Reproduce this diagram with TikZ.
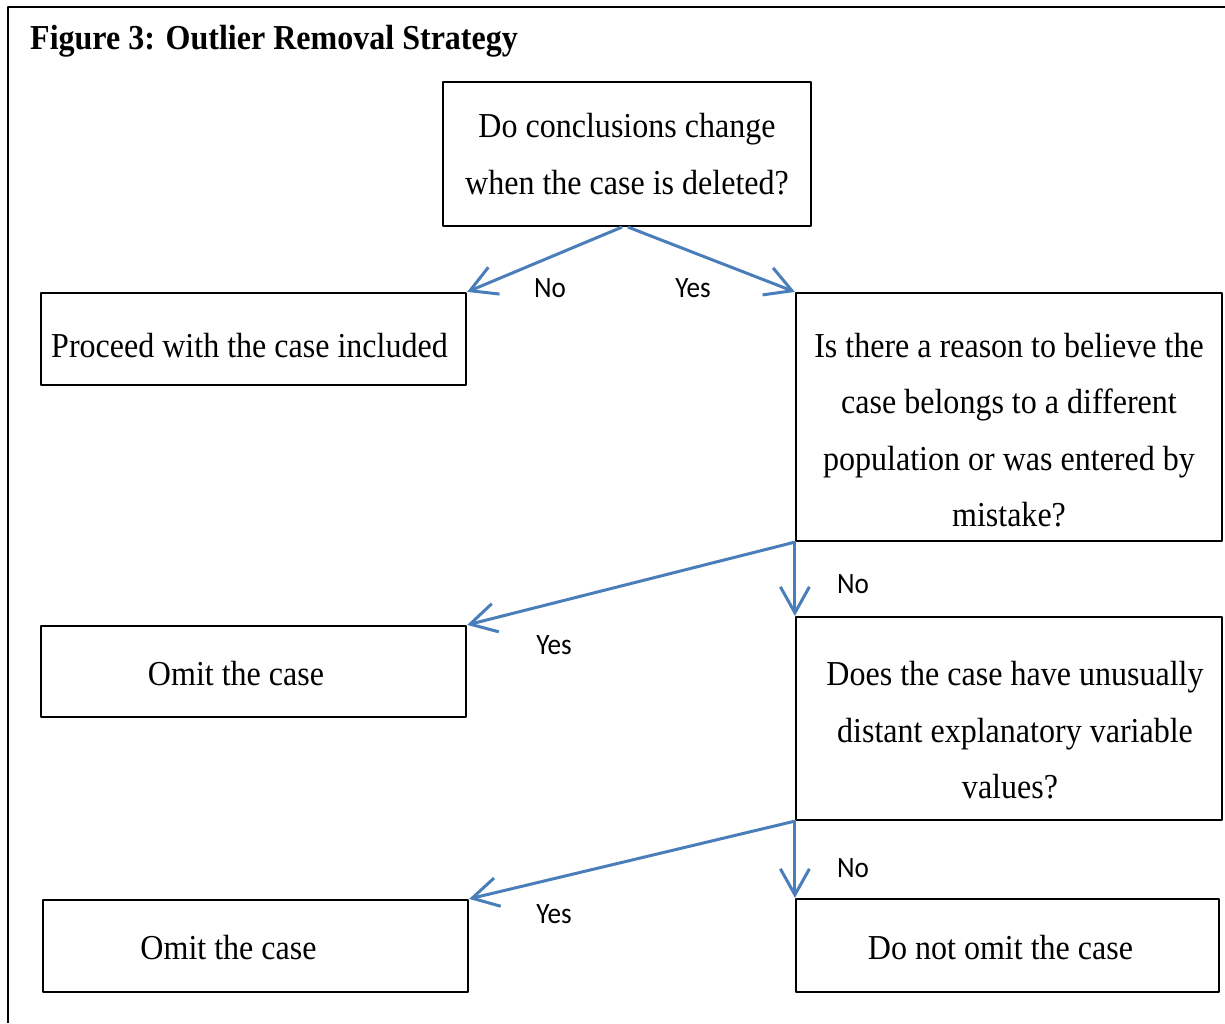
\documentclass[tikz,border=0pt]{standalone}
\usepackage{fontspec}
\setmainfont{Liberation Serif}[FakeStretch=0.915]
\newfontfamily\lblfont{Carlito}[FakeStretch=0.92]
\usetikzlibrary{arrows.meta}
\definecolor{arrblue}{RGB}{74,126,187}
\newcommand\boxfont{\fontsize{35}{56.5}\selectfont}
\begin{document}
\begin{tikzpicture}[x=1pt,y=-1pt,line join=round,
	box/.style={draw,line width=2.2pt,align=center,inner sep=0pt,font=\boxfont},
	arr/.style={draw=arrblue,line width=3pt,-{Straight Barb[length=26pt,width=29pt,line width=3pt]}},
	lbl/.style={font=\lblfont\fontsize{29.5}{32}\selectfont}]
	\useasboundingbox (0,0) rectangle (1225,1023);
	\draw[line width=2pt] (8,1023)--(8,7)--(1225,7);
	\node[anchor=base west,font=\boxfont\bfseries,inner sep=0pt] (title) at (30,49) {Figure 3: Outlier Removal Strategy};
	% boxes
	\node[box,minimum width=368,minimum height=144] (q1) at (627,154) {Do conclusions change\\when the case is deleted?};
	\node[box,minimum width=425,minimum height=92,text height=38pt] (proceed) at (253.5,339) {Proceed with the case included\hspace*{8pt}};
	\node[box,minimum width=426,minimum height=248,text height=219.5pt] (q2) at (1009,417) {Is there a reason to believe the\\case belongs to a different\\population or was entered by\\mistake?};
	\node[box,minimum width=425,minimum height=91,text height=28pt] (omit1) at (253.5,671.5) {Omit the case\hspace*{35pt}};
	\node[box,minimum width=426,minimum height=203,text height=161pt] (q3) at (1009,718.5) {\hspace*{12pt}Does the case have unusually\\\hspace*{12pt}distant explanatory variable\\\hspace*{2pt}values?};
	\node[box,minimum width=425,minimum height=92,text height=28pt] (omit2) at (255.5,946) {Omit the case\hspace*{54pt}};
	\node[box,minimum width=423,minimum height=93,text height=28pt] (keep) at (1007.5,945.5) {Do not omit the case\hspace*{14pt}};
	% arrows
	\draw[arr] ([xshift=-5pt]q1.south)--(proceed.north east);
	\draw[arr] ([xshift=1pt]q1.south)--(q2.north west);
	\draw[arr] (q2.south west)--(omit1.north east);
	\draw[arr] (q2.south west)--(q3.north west);
	\draw[arr] (q3.south west)--(omit2.north east);
	\draw[arr] (q3.south west)--(keep.north west);
	% labels
	\node[lbl] (no1) at (550,288) {No};
	\node[lbl] (yes1) at (693,288) {Yes};
	\node[lbl] (yes2) at (554,645) {Yes};
	\node[lbl] (no2) at (853,584) {No};
	\node[lbl] (yes3) at (554,914) {Yes};
	\node[lbl] (no3) at (853,868) {No};
\end{tikzpicture}
\end{document}
